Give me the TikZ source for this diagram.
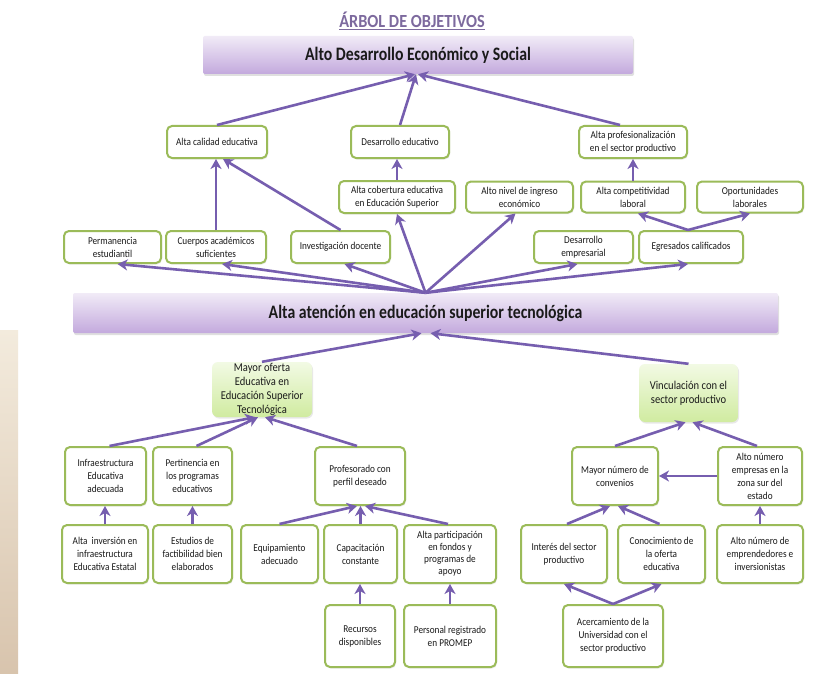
\documentclass[tikz,border=0pt]{standalone}
\usepackage{fontspec}
\setmainfont{Carlito}[FakeStretch=0.88]
\newfontfamily\barfont{Carlito}[FakeStretch=0.83]
\usetikzlibrary{arrows.meta,shadows,calc}
\definecolor{bgreen}{HTML}{9BBB59}
\definecolor{apurple}{HTML}{765EAF}
\definecolor{txt}{HTML}{1A1A1A}
\definecolor{ttl}{HTML}{7D6A9E}
\definecolor{ptop}{HTML}{F1EBF7}
\definecolor{pbot}{HTML}{C3A9DD}
\definecolor{gtop}{HTML}{F2FAE4}
\definecolor{gbot}{HTML}{D0EBA0}
\definecolor{beigetop}{HTML}{F3EBDD}
\definecolor{beigebot}{HTML}{D8C4AD}
\newcommand{\mybox}[6]{\node[gbox, minimum width=#4pt, minimum height=#5pt] (#1) at (#2,#3) {#6};}
\begin{document}
\begin{tikzpicture}[x=1pt,y=1pt,
  gbox/.style={draw=bgreen, line width=2pt, rounded corners=5pt, fill=white, align=center, inner sep=1pt, text=txt, font=\fontsize{10.5}{13}\selectfont, drop shadow={opacity=0.15, shadow xshift=1pt, shadow yshift=-1.5pt}},
  lgbox/.style={draw=none, rounded corners=6pt, top color=gtop, bottom color=gbot, align=center, inner sep=1pt, text=txt, font=\fontsize{12}{14}\selectfont, drop shadow={opacity=0.18, shadow xshift=1pt, shadow yshift=-1.5pt}},
  pbar/.style={draw=none, rounded corners=2pt, top color=ptop, bottom color=pbot, text=txt, font=\barfont\bfseries\fontsize{19}{22}\selectfont, drop shadow={opacity=0.25, shadow xshift=1pt, shadow yshift=-2pt}},
  arr/.style={draw=apurple, line width=2.6pt, -{Stealth[length=10pt,width=11pt,inset=3pt]}}
]
\useasboundingbox (0,0) rectangle (832,-674);
\fill[white] (0,0) rectangle (832,-674);
\shade[top color=beigetop, bottom color=beigebot] (0,-330) rectangle (18,-674);

% title
\node[text=ttl, font=\bfseries\fontsize{18.5}{20}\selectfont] (title) at (412,-21) {\underline{ÁRBOL DE OBJETIVOS}};

% bars
\node[pbar, minimum width=430pt, minimum height=38pt] (topbar) at (418,-55) {Alto Desarrollo Económico y Social};
\node[pbar, minimum width=705pt, minimum height=40pt] (mainbar) at (425.5,-313) {Alta atención en educación superior tecnológica};

% level 1
\mybox{alcal}{217}{-142}{100}{32}{Alta calidad educativa}
\mybox{deseduc}{400}{-142}{98}{32}{Desarrollo educativo}
\mybox{altprof}{633}{-142}{108}{32}{Alta profesionalización\\en el sector productivo}
% level 2
\mybox{cobert}{397}{-197}{116}{32}{Alta cobertura educativa\\en Educación Superior}
\mybox{altoniv}{519.5}{-197}{107}{31}{Alto nivel de ingreso\\económico}
\mybox{compet}{633}{-197}{104}{31}{Alta competitividad\\laboral}
\mybox{oport}{750}{-197}{106}{31}{Oportunidades\\laborales}
% level 3
\mybox{perman}{112.5}{-247}{97}{32}{Permanencia\\estudiantil}
\mybox{cuerpos}{216}{-247}{100}{32}{Cuerpos académicos\\suficientes}
\mybox{invest}{340.5}{-247}{99}{32}{Investigación docente}
\mybox{desemp}{583.5}{-247}{99}{32}{Desarrollo\\empresarial}
\mybox{egres}{691}{-247}{104}{32}{Egresados calificados}

% lower green boxes
\node[lgbox, minimum width=100pt, minimum height=55pt] (mayof) at (262,-389.5) {Mayor oferta\\Educativa en\\Educación Superior\\Tecnológica};
\node[lgbox, minimum width=99pt, minimum height=58pt] (vinc) at (688.5,-393) {Vinculación con el\\sector productivo};

% lower rows
\mybox{infra}{105.5}{-476}{81}{58}{Infraestructura\\Educativa\\adecuada}
\mybox{pert}{192.5}{-476}{79}{58}{Pertinencia en\\los programas\\educativos}
\mybox{prof}{360}{-476}{90}{58}{Profesorado con\\perfil deseado}
\mybox{mayno}{615}{-476}{86}{58}{Mayor número de\\convenios}
\mybox{altnum}{760}{-476}{84}{58}{Alto número\\empresas en la\\zona sur del\\estado}

\mybox{inver}{105}{-554}{86}{58}{Alta~ inversión en\\infraestructura\\Educativa Estatal}
\mybox{estud}{192.5}{-554}{79}{58}{Estudios de\\factibilidad bien\\elaborados}
\mybox{equip}{279.5}{-554}{77}{58}{Equipamiento\\adecuado}
\mybox{capac}{360.5}{-554}{73}{58}{Capacitación\\constante}
\node[gbox, minimum width=92pt, minimum height=58pt, font=\fontsize{10.5}{12}\selectfont] (partic) at (450,-554) {Alta participación\\en fondos y\\programas de\\apoyo};
\mybox{inter}{564}{-554}{86}{58}{Interés del sector\\productivo}
\mybox{conoc}{661.5}{-554}{87}{58}{Conocimiento de\\la oferta\\educativa}
\mybox{empr}{760}{-554}{86}{58}{Alto número de\\emprendedores e\\inversionistas}

\mybox{recur}{360}{-636}{70}{62}{Recursos\\disponibles}
\mybox{person}{450}{-636}{92}{62}{Personal registrado\\en PROMEP}
\mybox{acerc}{613}{-636}{100}{62}{Acercamiento de la\\Universidad con el\\sector productivo}

% arrows to top bar
\draw[arr] (alcal.north) -- ([xshift=-3pt]topbar.south);
\draw[arr] (deseduc.north) -- ([xshift=-2pt]topbar.south);
\draw[arr] ([xshift=-13pt]altprof.north) -- (topbar.south);
% upper arrows
\draw[arr] (cuerpos.north) -- (cuerpos.north |- alcal.south);
\draw[arr] (invest.north) -- ([xshift=6pt]alcal.south);
\draw[arr] (cobert.north) -- (cobert.north |- deseduc.south);
\draw[arr] (compet.north) -- (altprof.south);
\draw[arr] ([xshift=-3pt]egres.north) -- ([xshift=5pt]compet.south);
\draw[arr] ([xshift=-3pt]egres.north) -- (oport.south);
% from main bar
\draw[arr] (mainbar.north) -- ([xshift=5pt]perman.south);
\draw[arr] (mainbar.north) -- ([xshift=6pt]cuerpos.south);
\draw[arr] (mainbar.north) -- ([xshift=4pt]invest.south);
\draw[arr] (mainbar.north) -- (cobert.south);
\draw[arr] (mainbar.north) -- ([xshift=-4pt]altoniv.south);
\draw[arr] (mainbar.north) -- ([xshift=-6pt]desemp.south);
\draw[arr] (mainbar.north) -- ([xshift=-3pt]egres.south);
% to main bar
\draw[arr] (mayof.north) -- ([xshift=-4pt]mainbar.south);
\draw[arr] (vinc.north) -- ([xshift=5pt]mainbar.south);
% left lower
\draw[arr] ([xshift=4pt]infra.north) -- ([xshift=-7pt]mayof.south);
\draw[arr] ([xshift=4pt]pert.north) -- ([xshift=-4pt]mayof.south);
\draw[arr] ([xshift=-3pt]prof.north) -- ([xshift=3pt]mayof.south);
\draw[arr] (inver.north) -- (inver.north |- infra.south);
\draw[arr] (estud.north) -- (pert.south);
\draw[arr] (equip.north) -- ([xshift=-3pt]prof.south);
\draw[arr] (capac.north) -- (capac.north |- prof.south);
\draw[arr] ([xshift=-2pt]partic.north) -- ([xshift=5pt]prof.south);
\draw[arr] (recur.north) -- (recur.north |- capac.south);
\draw[arr] (person.north) -- (partic.south);
% right lower
\draw[arr] (mayno.north) -- ([xshift=-3pt]vinc.south);
\draw[arr] ([xshift=-3pt]altnum.north) -- ([xshift=4pt]vinc.south);
\draw[arr] (altnum.west) -- (mayno.east);
\draw[arr] (empr.north) -- (altnum.south);
\draw[arr] ([xshift=3pt]inter.north) -- ([xshift=-5pt]mayno.south);
\draw[arr] ([xshift=-2pt]conoc.north) -- ([xshift=3pt]mayno.south);
\draw[arr] (acerc.north) -- (inter.south);
\draw[arr] (acerc.north) -- (conoc.south);
\end{tikzpicture}
\end{document}
